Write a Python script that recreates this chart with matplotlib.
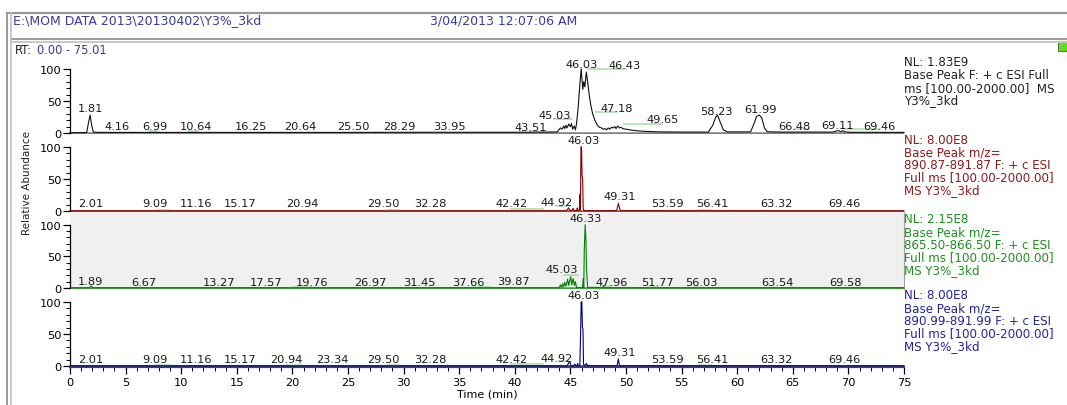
import matplotlib
matplotlib.use('Agg')
import matplotlib.pyplot as plt
import matplotlib.ticker as mticker
from matplotlib.lines import Line2D
from matplotlib.patches import Rectangle

plt.rcParams['font.family'] = ['DejaVu Sans']
plt.rcParams['font.size'] = 8

# ---- data ----
# (time in min, relative abundance in %)
tic_trace = [(0.0, 0.5), (1.5, 0.8), (1.65, 15), (1.81, 28), (1.95, 12), (2.1, 1.5), (2.5, 1.0),
             (8.0, 1.0), (16.0, 1.0), (24.0, 1.0), (32.0, 1.2), (40.0, 1.2), (43.8, 1.5),
             (44.1, 8), (44.25, 6), (44.4, 11), (44.5, 7), (44.6, 12), (44.7, 8), (44.85, 14),
             (45.0, 10), (45.1, 15), (45.2, 6), (45.35, 11), (45.45, 5), (45.55, 14), (45.7, 40),
             (45.85, 75), (45.97, 100), (46.05, 82), (46.12, 68), (46.2, 80), (46.3, 72),
             (46.43, 95), (46.55, 80), (46.7, 58), (46.85, 42), (47.0, 30), (47.2, 20),
             (47.4, 13), (47.6, 9), (47.8, 8), (47.95, 6), (48.1, 7), (48.25, 5), (48.4, 8),
             (48.55, 6), (48.7, 9), (48.85, 8), (49.0, 10), (49.1, 7), (49.25, 11), (49.4, 8),
             (49.55, 9), (49.7, 7), (50.0, 6), (50.5, 4.5), (51.0, 3.5), (51.8, 2.5), (53.0, 1.8),
             (55.0, 1.5), (57.4, 1.5), (57.8, 12), (58.05, 24), (58.23, 28), (58.45, 18),
             (58.75, 5), (59.1, 1.8), (61.2, 1.8), (61.5, 14), (61.75, 26), (61.99, 28),
             (62.2, 24), (62.45, 8), (62.7, 2), (64.0, 1.5), (66.0, 1.5), (68.6, 1.5),
             (68.9, 3), (69.11, 4), (69.3, 2), (69.5, 3.5), (69.7, 1.8), (70.2, 1.2), (75.0, 1.0)]

m89087_trace = [(0.0, 0.3), (44.6, 0.3), (44.75, 3), (44.85, 5), (44.95, 1), (45.1, 0.5),
                (45.25, 4), (45.35, 0.5), (45.55, 0.5), (45.62, 5), (45.7, 0.5), (45.82, 0.5),
                (45.87, 26), (45.9, 2), (45.95, 100), (46.0, 100), (46.05, 55), (46.1, 50),
                (46.15, 5), (46.22, 0.5), (49.15, 0.5), (49.25, 7), (49.31, 12), (49.4, 6),
                (49.5, 0.5), (75.0, 0.3)]

m86550_trace = [(0.0, 0.5), (1.7, 0.5), (1.89, 3), (2.1, 0.5), (44.0, 0.5), (44.1, 5), (44.2, 1),
                (44.3, 7), (44.4, 2), (44.5, 9), (44.6, 3), (44.75, 14), (44.85, 4), (44.95, 12),
                (45.03, 18), (45.12, 5), (45.25, 15), (45.35, 4), (45.45, 10), (45.55, 1),
                (46.1, 0.5), (46.15, 15), (46.2, 0.5), (46.25, 60), (46.33, 100), (46.4, 75),
                (46.45, 30), (46.55, 1), (47.9, 1), (47.96, 4), (48.05, 0.5), (75.0, 0.5)]

m89099_trace = [(0.0, 0.3), (44.7, 0.3), (44.85, 5), (44.95, 6), (45.05, 0.5), (45.3, 0.5),
                (45.4, 3), (45.5, 0.5), (45.6, 0.5), (45.65, 4), (45.72, 0.5), (45.85, 0.5),
                (45.92, 55), (45.97, 100), (46.03, 100), (46.08, 60), (46.13, 58), (46.18, 3),
                (46.3, 0.5), (46.45, 4), (46.55, 0.5), (49.2, 0.5), (49.31, 11), (49.42, 0.5),
                (75.0, 0.3)]

# peak labels: (text, x position in min, height in %)
tic_labels = [('1.81', 1.8, 39), ('4.16', 4.2, 11), ('6.99', 7.6, 11), ('10.64', 11.3, 11),
              ('16.25', 16.3, 11), ('20.64', 20.7, 11), ('25.50', 25.5, 11), ('28.29', 29.6, 11),
              ('33.95', 34.1, 11), ('43.51', 41.4, 10), ('45.03', 43.6, 28), ('46.03', 46.0, 108),
              ('46.43', 49.9, 106), ('47.18', 49.2, 39), ('49.65', 53.3, 22), ('58.23', 58.1, 34),
              ('61.99', 62.1, 37), ('66.48', 65.1, 11), ('69.11', 69.0, 12), ('69.46', 72.8, 11)]
m89087_labels = [('2.01', 1.9, 12), ('9.09', 7.6, 12), ('11.16', 11.3, 12), ('15.17', 15.3, 12),
                 ('20.94', 20.9, 12), ('29.50', 28.2, 12), ('32.28', 32.4, 12), ('42.42', 39.7, 12),
                 ('44.92', 43.8, 14), ('46.03', 46.2, 110), ('49.31', 49.4, 23), ('53.59', 53.7, 12),
                 ('56.41', 57.8, 12), ('63.32', 63.5, 12), ('69.46', 69.6, 12)]
m86550_labels = [('1.89', 1.8, 11), ('6.67', 6.6, 10), ('13.27', 13.4, 10), ('17.57', 17.6, 10),
                 ('19.76', 21.8, 10), ('26.97', 27.0, 10), ('31.45', 31.4, 10), ('37.66', 35.8, 10),
                 ('39.87', 39.9, 11), ('45.03', 44.2, 30), ('46.33', 46.4, 111), ('47.96', 48.7, 10),
                 ('51.77', 52.8, 10), ('56.03', 56.8, 10), ('63.54', 63.6, 10), ('69.58', 69.7, 10)]
m89099_labels = [('2.01', 1.9, 11), ('9.09', 7.6, 11), ('11.16', 11.3, 11), ('15.17', 15.3, 11),
                 ('20.94', 19.5, 11), ('23.34', 23.6, 11), ('29.50', 28.2, 11), ('32.28', 32.4, 11),
                 ('42.42', 39.7, 11), ('44.92', 43.8, 13), ('46.03', 46.2, 111), ('49.31', 49.4, 22),
                 ('53.59', 53.7, 11), ('56.41', 57.8, 11), ('63.32', 63.5, 11), ('69.46', 69.6, 11)]

# light green label leaders: (t start, t end, height %)
tic_leaders = [(7.1, 7.9, 3), (10.7, 11.5, 3), (41.4, 43.7, 1), (43.6, 45.1, 22), (46.6, 50.0, 100),
               (47.3, 49.2, 32), (49.8, 53.2, 14), (65.1, 66.5, 6), (69.6, 72.8, 6)]
m89087_leaders = [(7.7, 9.1, 1), (28.5, 29.7, 1), (39.7, 42.5, 3), (43.9, 44.9, 8), (56.5, 57.7, 1)]
m86550_leaders = [(20.0, 21.8, 1), (36.1, 37.8, 1), (44.4, 45.7, 20), (48.0, 48.7, 3),
                  (52.0, 53.0, 2), (56.2, 56.6, 1)]
m89099_leaders = [(7.7, 9.1, 1), (19.4, 20.9, 1), (28.5, 29.7, 1), (39.7, 42.5, 3),
                  (43.9, 44.9, 8), (56.5, 57.7, 1)]

# scan filter text at the right of each trace
tic_info = ['NL: 1.83E9', 'Base Peak F: + c ESI Full', 'ms [100.00-2000.00]  MS', 'Y3%_3kd']
m89087_info = ['NL: 8.00E8', 'Base Peak m/z=', '890.87-891.87 F: + c ESI',
               'Full ms [100.00-2000.00]', 'MS Y3%_3kd']
m86550_info = ['NL: 2.15E8', 'Base Peak m/z=', '865.50-866.50 F: + c ESI',
               'Full ms [100.00-2000.00]', 'MS Y3%_3kd']
m89099_info = ['NL: 8.00E8', 'Base Peak m/z=', '890.99-891.99 F: + c ESI',
               'Full ms [100.00-2000.00]', 'MS Y3%_3kd']

# ---- figure ----
W, H = 1067, 406
fig = plt.figure(figsize=(W / 100, H / 100), dpi=100)
fig.patch.set_facecolor('white')


def fx(px):
    return px / W


def fy(py):
    return 1 - py / H


def frame_line(x0, y0, x1, y1, color, lw):
    fig.add_artist(Line2D([fx(x0), fx(x1)], [fy(y0), fy(y1)], transform=fig.transFigure,
                          color=color, lw=lw))


# window frame
frame_line(7, 14, W, 14, '#9a9a9a', 1.6)
frame_line(11, 40, W, 40, '#9a9a9a', 1.4)
frame_line(11, 43, W, 43, '#c8c8c8', 1.4)
frame_line(7, 14, 7, H, '#9a9a9a', 1.4)
frame_line(11, 14, 11, H, '#c0c0c0', 1.2)
fig.add_artist(Rectangle((fx(1058), fy(52)), fx(9), 10 / H, transform=fig.transFigure,
                         facecolor='#66dd22', edgecolor='#557744', lw=0.8))

fig.text(fx(13), fy(21), 'E:\\MOM DATA 2013\\20130402\\Y3%_3kd', color='#3a3aa0',
         fontsize=9, va='center')
fig.text(fx(430), fy(21), '3/04/2013 12:07:06 AM', color='#3a3aa0', fontsize=9, va='center')
fig.text(fx(15), fy(51), 'RT:', color='#222222', fontsize=8.3, va='center')
fig.text(fx(37), fy(51), '0.00 - 75.01', color='#3a3aa0', fontsize=8.3, va='center')

panels = [
    (tic_trace, tic_labels, tic_leaders, tic_info, '#111111', '#222222', 57, 135),
    (m89087_trace, m89087_labels, m89087_leaders, m89087_info, '#8b0000', '#8b1c1c', 135, 213),
    (m86550_trace, m86550_labels, m86550_leaders, m86550_info, '#008000', '#1f8f1f', 213, 290),
    (m89099_trace, m89099_labels, m89099_leaders, m89099_info, '#000080', '#2323a0', 290, 368),
]
info_tops = [63, 140, 220, 296]
base_colors = ['#808080', '#a05050', '#3f9f3f', '#404070']

X0, X1 = 70, 904
for i, (trace, labels, leaders, info, lc, tc, top, bot) in enumerate(panels):
    ax = fig.add_axes([fx(X0), fy(bot), fx(X1) - fx(X0), (bot - top) / H])
    ax.set_xlim(0, 75)
    ax.set_ylim(-1.5, 120)
    ax.set_facecolor('#f0f0f0' if i == 2 else 'none')
    for s in ['top', 'right', 'bottom']:
        ax.spines[s].set_visible(False)
    ax.spines['left'].set_bounds(0, 100)
    ax.spines['left'].set_linewidth(0.9)
    ax.set_yticks([0, 50, 100])
    ax.yaxis.set_minor_locator(mticker.FixedLocator([10, 20, 30, 40, 60, 70, 80, 90]))
    ax.tick_params(axis='y', which='major', length=5, width=0.9, pad=1, labelsize=8.2)
    ax.tick_params(axis='y', which='minor', length=3, width=0.7)
    if i == 2:
        ax.spines['right'].set_visible(True)
        ax.spines['right'].set_color('#a0a0a0')

    ax.axhline(0, color=base_colors[i], lw=1.8, zorder=1)
    t = [p[0] for p in trace]
    y = [p[1] for p in trace]
    ax.plot(t, y, color=lc, lw=0.8, zorder=3, clip_on=False)

    for t0, t1, h in leaders:
        ax.plot([t0, t1], [h, h], color='#a8dca8', lw=1.1, zorder=2, clip_on=False)
    for txt, tx, ty in labels:
        ax.text(tx, ty, txt, fontsize=8.2, ha='center', va='center', color='#1a1a1a',
                zorder=4, clip_on=False)

    for k, line in enumerate(info):
        fig.text(fx(904), fy(info_tops[i] + k * 12.6), line, color=tc, fontsize=8.6,
                 va='center')

    if i < 3:
        ax.set_xticks([])
    else:
        ax.spines['bottom'].set_visible(True)
        ax.spines['bottom'].set_bounds(0, 75)
        ax.spines['bottom'].set_color('#404070')
        ax.spines['bottom'].set_linewidth(1.6)
        ax.set_xticks(range(0, 80, 5))
        ax.xaxis.set_minor_locator(mticker.MultipleLocator(1))
        ax.tick_params(axis='x', which='major', length=5, width=0.9, pad=2, labelsize=8.2)
        ax.tick_params(axis='x', which='minor', length=3, width=0.7)
        ax.set_xlabel('Time (min)', fontsize=8, labelpad=1)

fig.text(fx(27), fy(183), 'Relative Abundance', rotation=90, fontsize=7.5,
         ha='center', va='center', color='#222222')

fig.savefig('out.png', dpi=100)
